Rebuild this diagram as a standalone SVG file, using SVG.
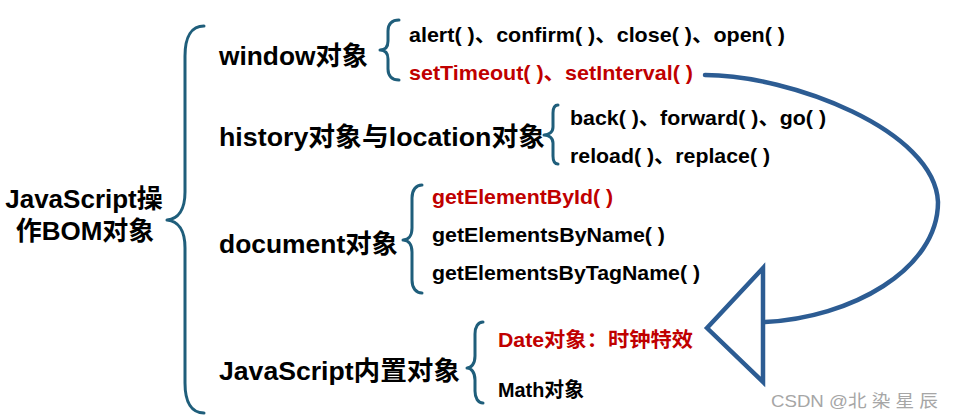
<svg xmlns="http://www.w3.org/2000/svg" width="955" height="418" viewBox="0 0 955 418">
  <defs>
    <style>
      .t { font-family: "Liberation Sans", "Noto Sans CJK SC", sans-serif; font-weight: bold; fill: #000; }
      .main { font-size: 26px; }
      .item { font-size: 20.5px; }
      .red { fill: #C00000; }
      .brace { fill: none; stroke: #1F5E7B; stroke-width: 3; stroke-linecap: round; stroke-linejoin: round; }
      .conn { fill: none; stroke: #2C5C93; stroke-width: 4.5; stroke-linecap: round; }
      .head { fill: #fff; stroke: #2C5C93; stroke-width: 4.5; stroke-linejoin: miter; }
      .wm { font-family: "Liberation Sans", "Noto Sans CJK SC", sans-serif; font-size: 17px; fill: #A6A6A6; }
    </style>
  </defs>
  <rect width="955" height="418" fill="#fff"/>

  <g id="root">
    <text class="t main" x="84" y="208" text-anchor="middle">JavaScript操</text>
    <text class="t main" x="85" y="240" text-anchor="middle">作BOM对象</text>
    <path class="brace" d="M204,26 C192,26 185,36 185,56 L185,192 C185,210 178,219 167,220 C178,221 185,230 185,248 L185,383 C185,403 192,413 204,413"/>
  </g>

  <g id="window">
    <text class="t main" x="219" y="65" textLength="149" lengthAdjust="spacingAndGlyphs">window对象</text>
    <path class="brace" d="M399,20 C392,20 388,24 388,31 L388,41 C388,47 385,50 380,50 C385,50 388,53 388,59 L388,69 C388,76 392,80 399,80"/>
    <text class="t item" x="409" y="42" textLength="376" lengthAdjust="spacingAndGlyphs">alert( )、confirm( )、close( )、open( )</text>
    <text class="t item red" x="409" y="80" textLength="284" lengthAdjust="spacingAndGlyphs">setTimeout( )、setInterval( )</text>
  </g>

  <g id="history">
    <text class="t main" x="219" y="146" textLength="326" lengthAdjust="spacingAndGlyphs">history对象与location对象</text>
    <path class="brace" d="M558,105 C555,105 553,108 553,113 L553,127 C553,132 549,135 544,135 C549,135 553,138 553,143 L553,156 C553,161 555,164 558,164"/>
    <text class="t item" x="570" y="125" textLength="256" lengthAdjust="spacingAndGlyphs">back( )、forward( )、go( )</text>
    <text class="t item" x="570" y="163" textLength="200" lengthAdjust="spacingAndGlyphs">reload( )、replace( )</text>
  </g>

  <g id="document">
    <text class="t main" x="219" y="253" textLength="179" lengthAdjust="spacingAndGlyphs">document对象</text>
    <path class="brace" d="M422,185 C416,185 412,190 412,198 L412,228 C412,236 408,240 403,240 C408,240 412,244 412,252 L412,280 C412,288 416,293 422,293"/>
    <text class="t item red" x="432" y="204" textLength="181" lengthAdjust="spacingAndGlyphs">getElementById( )</text>
    <text class="t item" x="432" y="242" textLength="233" lengthAdjust="spacingAndGlyphs">getElementsByName( )</text>
    <text class="t item" x="432" y="280" textLength="268" lengthAdjust="spacingAndGlyphs">getElementsByTagName( )</text>
  </g>

  <g id="builtin">
    <text class="t main" x="219" y="380" textLength="241" lengthAdjust="spacingAndGlyphs">JavaScript内置对象</text>
    <path class="brace" d="M483,322 C478,322 475,327 475,334 L475,356 C475,364 471,368 467,368 C471,368 475,372 475,380 L475,391 C475,398 478,403 483,403"/>
    <text class="t item red" x="498" y="347" textLength="195" lengthAdjust="spacingAndGlyphs">Date对象：时钟特效</text>
    <text class="t item" x="498" y="397" textLength="86" lengthAdjust="spacingAndGlyphs">Math对象</text>
  </g>

  <g id="connectors">
    <path class="conn" d="M705,75 C790,75 935,130 938,202 C938,270 850,318 765,322"/>
    <polygon class="head" points="707,328 763,268 763,382"/>
  </g>

  <text class="wm" x="771" y="407" textLength="167" lengthAdjust="spacingAndGlyphs">CSDN @北 染 星 辰</text>
</svg>
